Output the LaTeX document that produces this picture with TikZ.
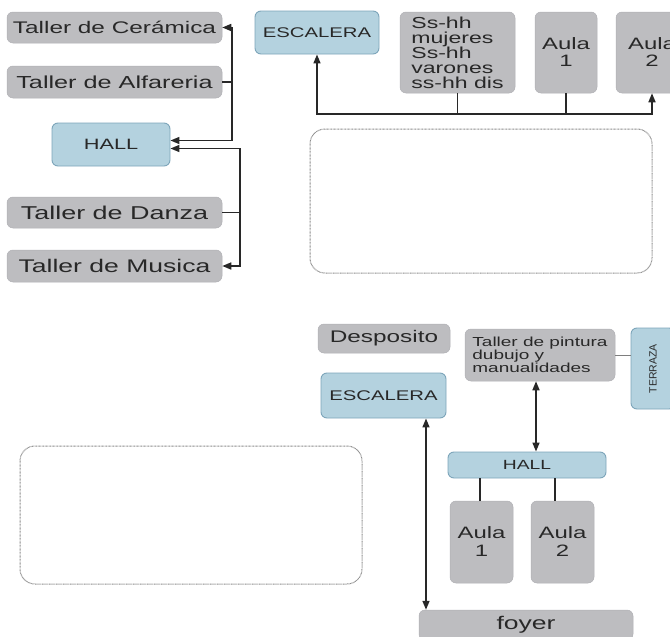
\documentclass[tikz,border=0pt]{standalone}
\usepackage{fontspec}
\setmainfont{Liberation Sans}[FakeStretch=1.45]
\newfontfamily\plainsans{Liberation Sans}
\usetikzlibrary{arrows.meta}
\definecolor{boxgray}{RGB}{189,189,192}
\definecolor{grayedge}{RGB}{176,176,180}
\definecolor{boxblue}{RGB}{180,210,223}
\definecolor{blueedge}{RGB}{125,165,186}
\definecolor{txt}{RGB}{40,40,40}
\definecolor{ln}{RGB}{40,40,40}
\definecolor{dotc}{RGB}{140,140,140}
\begin{document}
\begin{tikzpicture}[x=1pt,y=-1pt,
  graybox/.style={fill=boxgray, draw=grayedge, line width=0.5pt, rounded corners=6pt, text=txt, inner sep=0pt},
  bluebox/.style={fill=boxblue, draw=blueedge, line width=0.9pt, rounded corners=6pt, text=txt, inner sep=0pt},
  conn/.style={draw=ln, line width=1.6pt},
  dblarr/.style={conn, arrows={Triangle[length=9pt 0 0,width=7pt 0 0]-Triangle[length=9pt 0 0,width=7pt 0 0]}},
  dotbox/.style={draw=dotc, line width=1pt, dash pattern=on 0.8pt off 0.6pt, rounded corners=15pt},
  fs/.style={font=\fontsize{#1}{#1}\selectfont}
]
\useasboundingbox (0,0) rectangle (670,637);
\clip (0,0) rectangle (670,637);

% ---------- upper left ----------
\node[graybox, minimum width=215pt, minimum height=31pt, fs=16.8] (cer) at (114.5,27.5) {Taller de Cerámica};
\node[graybox, minimum width=215pt, minimum height=32pt, fs=17.4] (alf) at (114.5,82) {Taller de Alfareria};
\node[bluebox, minimum width=118pt, minimum height=43pt, fs=15] (hallL) at (111,144.5) {HALL};
\node[graybox, minimum width=215pt, minimum height=31pt, fs=18.6] (dan) at (114.5,212.5) {Taller de Danza};
\node[graybox, minimum width=215pt, minimum height=32pt, fs=18.3] (mus) at (114.5,266) {Taller de Musica};

\coordinate (vx1) at (232,80);
\coordinate (vx2) at (240,200);
\draw[dblarr] (cer.east) -| (vx1) |- ([yshift=4pt]hallL.east);
\draw[conn] (alf.east) -- (alf.east -| vx1);
\draw[dblarr] ([yshift=-4pt]hallL.east) -| (vx2) |- (mus.east);
\draw[conn] (dan.east) -- (dan.east -| vx2);

% ---------- upper right ----------
\node[bluebox, minimum width=124pt, minimum height=43pt, fs=14] (escT) at (317,32.5) {ESCALERA};
\node[graybox, minimum width=115pt, minimum height=81pt, align=left, font=\fontsize{15.9}{15}\selectfont] (ssT) at (457.5,52.5) {Ss-hh\\mujeres\\Ss-hh\\varones\\ss-hh dis};
\node[graybox, minimum width=62pt, minimum height=81pt, align=center, font=\fontsize{16.5}{17}\selectfont] (a1T) at (566,52.5) {Aula\\1};
\node[graybox, minimum width=72pt, minimum height=81pt, align=center, font=\fontsize{16.5}{17}\selectfont] (a2T) at (652,52.5) {Aula\\2};

\coordinate (bus) at (0,114);
\draw[dblarr] (escT.south) |- (ssT.south |- bus) -| (a2T.south);
\draw[conn] (ssT.south) -- (ssT.south |- bus);
\draw[conn] (a1T.south) -- (a1T.south |- bus);

\draw[dotbox] (310,129) rectangle (652,273);

% ---------- lower ----------
\node[graybox, minimum width=132pt, minimum height=29pt, fs=16.8] (des) at (384,338.5) {Desposito};
\node[graybox, minimum width=150pt, minimum height=52pt, align=left, font=\fontsize{13.1}{13}\selectfont] (pin) at (540,355) {Taller de pintura\\dubujo y\\manualidades};
\node[bluebox, minimum width=44pt, minimum height=81pt] (ter) at (653,368.5) {};
\node[rotate=90, text=txt, inner sep=0pt, font=\plainsans\fontsize{10.5}{11}\selectfont] (terT) at (ter.center) {TERRAZA};
\draw[draw=ln!60, line width=0.9pt] (pin.east) -- (pin.east -| ter.west);

\node[bluebox, minimum width=125pt, minimum height=45pt, fs=14] (escB) at (383.5,395.5) {ESCALERA};
\node[bluebox, minimum width=158pt, minimum height=26pt, fs=13.3] (hallB) at (527,465) {HALL};
\node[graybox, minimum width=63pt, minimum height=82pt, align=center, font=\fontsize{16.5}{18}\selectfont] (a1B) at (481.5,542) {Aula\\1};
\node[graybox, minimum width=63pt, minimum height=82pt, align=center, font=\fontsize{16.5}{18}\selectfont] (a2B) at (562.5,542) {Aula\\2};
\node[graybox, minimum width=214pt, minimum height=30pt, fs=18.3] (foy) at (526,625) {foyer};

\coordinate (ax) at (536,0);
\coordinate (ex) at (426,0);
\coordinate (lx1) at (480,0);
\coordinate (lx2) at (555,0);
\draw[dblarr] (pin.south -| ax) -- (hallB.north -| ax);
\draw[dblarr] (escB.south -| ex) -- (foy.north -| ex);
\draw[conn] (hallB.south -| lx1) -- (a1B.north -| lx1);
\draw[conn] (hallB.south -| lx2) -- (a2B.north -| lx2);

\draw[dotbox] (20,446) rectangle (362,584);
\end{tikzpicture}
\end{document}
